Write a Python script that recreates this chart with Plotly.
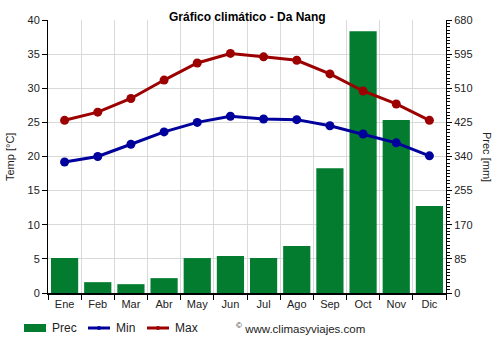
import plotly.graph_objects as go

months = ["Ene", "Feb", "Mar", "Abr", "May", "Jun", "Jul", "Ago", "Sep", "Oct", "Nov", "Dic"]
prec = [87, 27, 22, 37, 87, 92, 87, 117, 311, 652, 431, 217]
t_min = [19.2, 20.0, 21.8, 23.6, 25.0, 25.9, 25.5, 25.4, 24.5, 23.3, 22.0, 20.1]
t_max = [25.3, 26.5, 28.5, 31.2, 33.7, 35.1, 34.6, 34.1, 32.1, 29.6, 27.7, 25.3]

temp_ticks = list(range(0, 45, 5))
prec_ticks = list(range(0, 765, 85))

FONT = "Liberation Sans, Arial, sans-serif"
GREEN = "#037c30"
BLUE = "#00009c"
RED = "#9c0000"

# plot area in pixels: x 48..446, y 20..293
L, R, T, B = 48, 446, 20, 293


def px(x):
    return (x - L) / (R - L)


def py(y):
    return (B - y) / (B - T)


fig = go.Figure()
# precipitation on the primary axis (drawn first, below the temperature lines)
fig.add_trace(go.Bar(x=months, y=prec, name="Prec", marker_color=GREEN,
                     marker_line_width=0, yaxis="y"))
fig.add_trace(go.Scatter(x=months, y=t_min, name="Min", mode="lines+markers", yaxis="y2",
                         line=dict(color=BLUE, width=3), marker=dict(size=9, color=BLUE)))
fig.add_trace(go.Scatter(x=months, y=t_max, name="Max", mode="lines+markers", yaxis="y2",
                         line=dict(color=RED, width=3), marker=dict(size=9, color=RED)))

# hand-built legend row
leg_y = py(328)
shapes = [
    dict(type="rect", xref="paper", yref="paper", x0=px(24), x1=px(46),
         y0=py(332), y1=py(324), fillcolor=GREEN, line_width=0),
    dict(type="line", xref="paper", yref="paper", x0=px(88), x1=px(110),
         y0=leg_y, y1=leg_y, line=dict(color=BLUE, width=3)),
    dict(type="circle", xref="paper", yref="paper", x0=px(97), x1=px(101),
         y0=py(330), y1=py(326), fillcolor=BLUE, line_width=0),
    dict(type="line", xref="paper", yref="paper", x0=px(147), x1=px(169),
         y0=leg_y, y1=leg_y, line=dict(color=RED, width=3)),
    dict(type="circle", xref="paper", yref="paper", x0=px(156), x1=px(160),
         y0=py(330), y1=py(326), fillcolor=RED, line_width=0),
]


def leg_text(text, x, size=12):
    return dict(text=text, x=px(x), xref="paper", y=leg_y, yref="paper",
                xanchor="left", yanchor="middle", showarrow=False,
                font=dict(size=size, color="#222"))


fig.update_layout(
    width=500, height=350,
    margin=dict(l=L, r=500 - R, t=T, b=350 - B),
    paper_bgcolor="white", plot_bgcolor="white",
    font=dict(family=FONT, size=11, color="#222"),
    bargap=0.18,
    showlegend=False,
    shapes=shapes,
    xaxis=dict(type="category", tickson="boundaries", showgrid=True, gridcolor="#d9d9d9",
               ticks="outside", ticklen=5, tickcolor="black", showline=True,
               linecolor="black", linewidth=2, range=[-0.5, 11.5]),
    # 85 mm steps line up with 5 °C steps, so the horizontal grid comes from this axis
    yaxis=dict(range=[0, 680], tickvals=prec_ticks, side="right",
               showgrid=True, gridcolor="#d9d9d9", ticks="outside", ticklen=5,
               tickcolor="black", showline=True, linecolor="black", linewidth=1,
               zeroline=False,
               minor=dict(dtick=8.5, ticks="outside", ticklen=3, tickcolor="black",
                          showgrid=False)),
    yaxis2=dict(range=[0, 40], tickvals=temp_ticks, overlaying="y", side="left",
                showgrid=False,
                ticks="outside", ticklen=5, tickcolor="black", showline=True,
                linecolor="black", linewidth=1, zeroline=False),
    annotations=[
        dict(text="<b>Gráfico climático - Da Nang</b>", x=0.5, xref="paper", y=py(17),
             yref="paper", yanchor="middle", xanchor="center", showarrow=False,
             font=dict(size=12, color="black")),
        dict(text="Temp [°C]", textangle=-90, x=px(10), xref="paper", y=py(157), yref="paper",
             xanchor="center", yanchor="middle", showarrow=False, font=dict(size=11)),
        dict(text="Prec [mm]", textangle=90, x=px(487), xref="paper", y=py(157), yref="paper",
             xanchor="center", yanchor="middle", showarrow=False, font=dict(size=11)),
        leg_text("Prec", 50),
        leg_text("Min", 114),
        leg_text("Max", 173),
        leg_text("<sup>©</sup> www.climasyviajes.com", 234, size=11.5),
    ],
)

fig.write_html("out.html")
